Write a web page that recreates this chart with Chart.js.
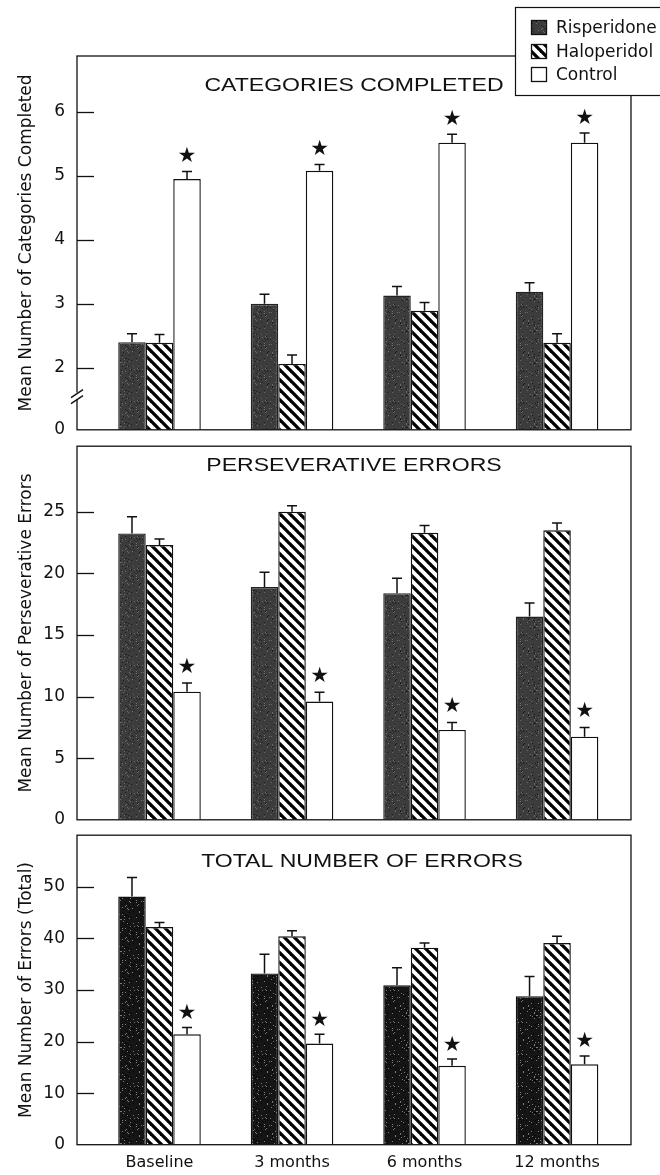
<!DOCTYPE html>
<html><head><meta charset="utf-8">
<script src="https://cdn.jsdelivr.net/npm/chart.js@4/dist/chart.umd.min.js"></script>
<style>
html,body{margin:0;padding:0;background:#fff;}
#wrap{position:relative;width:660px;height:1175px;overflow:hidden;background:#fff;}
canvas{position:absolute;left:0;}
</style></head><body>
<div id="wrap">
<canvas id="c1" width="660" height="452" style="top:0px"></canvas>
<canvas id="c2" width="660" height="418" style="top:424px"></canvas>
<canvas id="c3" width="660" height="362" style="top:813px"></canvas>
</div>
<script>
// ---------- DATA ----------
const categories = ['Baseline', '3 months', '6 months', '12 months'];
const groups = ['Risperidone', 'Haloperidol', 'Control'];

// Panel 1: categories completed (means and SEM)
const catRisperidone    = [2.40, 3.00, 3.13, 3.19];
const catRisperidoneSem = [0.13, 0.15, 0.14, 0.14];
const catHaloperidol    = [2.39, 2.06, 2.89, 2.39];
const catHaloperidolSem = [0.13, 0.14, 0.13, 0.14];
const catControl        = [4.95, 5.08, 5.52, 5.52];
const catControlSem     = [0.12, 0.10, 0.13, 0.15];
const catTickValues = [1.03, 2, 3, 4, 5, 6];      // axis is broken: lowest tick stands for 0
const catTickLabels = ['0', '2', '3', '4', '5', '6'];

// Panel 2: perseverative errors
const perRisperidone    = [23.25, 18.9, 18.4, 16.5];
const perRisperidoneSem = [1.35, 1.2, 1.2, 1.1];
const perHaloperidol    = [22.3, 25.0, 23.3, 23.5];
const perHaloperidolSem = [0.5, 0.5, 0.6, 0.6];
const perControl        = [10.4, 9.6, 7.3, 6.75];
const perControlSem     = [0.7, 0.75, 0.6, 0.75];
const perTickValues = [0, 5, 10, 15, 20, 25];
const perTickLabels = ['0', '5', '10', '15', '20', '25'];

// Panel 3: total number of errors
const totRisperidone    = [48.1, 33.2, 30.9, 28.8];
const totRisperidoneSem = [3.7, 3.7, 3.4, 3.8];
const totHaloperidol    = [42.2, 40.4, 38.2, 39.1];
const totHaloperidolSem = [0.9, 1.1, 0.9, 1.3];
const totControl        = [21.4, 19.6, 15.3, 15.6];
const totControlSem     = [1.3, 1.8, 1.3, 1.6];
const totTickValues = [0, 10, 20, 30, 40, 50];
const totTickLabels = ['0', '10', '20', '30', '40', '50'];

const controlSignificant = [true, true, true, true];

// ---------- STYLE ----------
const FONT = '"DejaVu Sans", sans-serif';
Chart.defaults.font.family = FONT;

function speckle(ctx, base, dots) {
  const s = 32, c = document.createElement('canvas');
  c.width = s; c.height = s;
  const g = c.getContext('2d');
  g.fillStyle = base; g.fillRect(0, 0, s, s);
  for (let i = 0; i < s; i++) for (let j = 0; j < s; j++) {
    const h = (i * 7919 + j * 104729 + i * j * 31 + (i ^ j) * 17) % 97;
    if (h < 5) { g.fillStyle = dots[0]; g.fillRect(i, j, 1, 1); }
    else if (h > 90) { g.fillStyle = dots[1]; g.fillRect(i, j, 1, 1); }
  }
  return ctx.createPattern(c, 'repeat');
}
function stripes(ctx) {
  const s = 10, c = document.createElement('canvas');
  c.width = s; c.height = s;
  const g = c.getContext('2d');
  g.fillStyle = '#fff'; g.fillRect(0, 0, s, s);
  g.strokeStyle = '#000'; g.lineWidth = 3.3;
  for (const o of [-s, 0, s]) {
    g.beginPath(); g.moveTo(o - 2, -2); g.lineTo(o + s + 2, s + 2); g.stroke();
  }
  return ctx.createPattern(c, 'repeat');
}

function makeDecor(cfg) {
  return {
    id: 'decor_' + cfg.id,
    afterDatasetsDraw(chart) {
      const ctx = chart.ctx, a = chart.chartArea, y = chart.scales.y;
      ctx.save();
      ctx.strokeStyle = '#111'; ctx.lineWidth = 1.3;
      ctx.strokeRect(a.left, a.top, a.right - a.left, a.bottom - a.top);
      // inward ticks
      y.ticks.forEach(t => {
        if (t.value <= y.min + 1e-9) return;
        const py = Math.round(y.getPixelForValue(t.value)) + 0.5;
        ctx.beginPath(); ctx.moveTo(a.left, py); ctx.lineTo(a.left + 17, py); ctx.stroke();
      });
      // axis break
      if (cfg.breakAt !== undefined) {
        const py = y.getPixelForValue(cfg.breakAt);
        ctx.fillStyle = '#fff';
        ctx.fillRect(a.left - 2, py - 4, 4, 7);
        ctx.lineWidth = 1.4;
        ctx.beginPath();
        ctx.moveTo(a.left - 6, py + 1); ctx.lineTo(a.left + 6, py - 7);
        ctx.moveTo(a.left - 6, py + 7); ctx.lineTo(a.left + 6, py - 1);
        ctx.stroke();
      }
      // error bars
      ctx.lineWidth = 1.5; ctx.strokeStyle = '#111';
      chart.data.datasets.forEach((ds, di) => {
        const meta = chart.getDatasetMeta(di);
        meta.data.forEach((bar, j) => {
          const v = ds.data[j].y, e = cfg.sem[di][j];
          const top = y.getPixelForValue(v + e);
          ctx.beginPath();
          ctx.moveTo(bar.x, bar.y); ctx.lineTo(bar.x, top);
          ctx.moveTo(bar.x - 5, top); ctx.lineTo(bar.x + 5, top);
          ctx.stroke();
        });
      });
      // significance stars on control bars
      const cMeta = chart.getDatasetMeta(2);
      ctx.fillStyle = '#111';
      ctx.font = '21px ' + FONT;
      ctx.textAlign = 'center'; ctx.textBaseline = 'middle';
      cMeta.data.forEach((bar, j) => {
        if (!controlSignificant[j]) return;
        const v = chart.data.datasets[2].data[j].y + cfg.sem[2][j];
        ctx.fillText('\u2605', bar.x, y.getPixelForValue(v) - cfg.starGap);
      });
      // panel title
      ctx.font = '18px "Liberation Sans", ' + FONT;
      ctx.translate((a.left + a.right) / 2 + cfg.titleDx, a.top + cfg.titleDy);
      ctx.scale(1.28, 1);
      ctx.fillText(cfg.title, 0, 0);
      ctx.restore();
    },
    afterDraw(chart) {
      if (!cfg.legend) return;
      const ctx = chart.ctx;
      ctx.save();
      ctx.fillStyle = '#fff';
      ctx.fillRect(515, 7, 160, 88);
      ctx.strokeStyle = '#111'; ctx.lineWidth = 1.2;
      ctx.strokeRect(515.5, 7.5, 160, 88);
      const rows = [28, 52, 75];
      chart.data.datasets.forEach((ds, i) => {
        ctx.fillStyle = ds.backgroundColor;
        ctx.fillRect(531, rows[i] - 8, 16, 15);
        ctx.strokeStyle = '#111'; ctx.lineWidth = 1.3;
        ctx.strokeRect(531.5, rows[i] - 7.5, 15, 14);
        ctx.fillStyle = '#111';
        ctx.font = '17px ' + FONT;
        ctx.textAlign = 'left'; ctx.textBaseline = 'middle';
        ctx.fillText(ds.label, 556, rows[i] + 1);
      });
      ctx.restore();
    }
  };
}

function makePanel(cfg) {
  const ctx = document.getElementById(cfg.id).getContext('2d');
  const fills = [speckle(ctx, cfg.rispBase, cfg.rispDots), stripes(ctx), '#fff'];
  const borders = [cfg.rispBorder, '#111', '#111'];
  const datasets = cfg.values.map((vals, k) => ({
    label: groups[k],
    data: vals.map((v, i) => ({ x: i, y: v })),
    backgroundColor: fills[k],
    borderColor: borders[k],
    borderWidth: 1.4,
    categoryPercentage: 0.623,
    barPercentage: 1
  }));
  return new Chart(ctx, {
    type: 'bar',
    data: { datasets },
    options: {
      responsive: false, animation: false, devicePixelRatio: 1,
      layout: { padding: { top: cfg.padTop, right: 29, left: 0, bottom: 0 } },
      plugins: { legend: { display: false }, tooltip: { enabled: false }, title: { display: false } },
      scales: {
        x: {
          type: 'linear', min: -0.6226, max: 3.558, offset: false,
          grid: { display: false, drawTicks: false }, border: { display: false },
          afterBuildTicks: s => { s.ticks = categories.map((c, i) => ({ value: i })); },
          ticks: { display: cfg.showX, autoSkip: false, maxRotation: 0, padding: 9,
                   font: { size: 16, family: FONT }, color: '#111',
                   callback: v => categories[v] },
          afterFit: s => { s.height = cfg.xHeight; }
        },
        y: {
          type: 'linear', min: cfg.yMin, max: cfg.yMax,
          grid: { display: false, drawTicks: false }, border: { display: false },
          afterBuildTicks: s => { s.ticks = cfg.tickValues.map(v => ({ value: v })); },
          ticks: { padding: 12, autoSkip: false, font: { size: 17, family: FONT }, color: '#111',
                   callback: (v, i) => cfg.tickLabels[i] },
          title: { display: true, text: cfg.yTitle, color: '#111',
                   font: { size: 17, family: FONT }, padding: { top: 16, bottom: 0 } },
          afterFit: s => { s.width = 77; }
        }
      }
    },
    plugins: [makeDecor(cfg)]
  });
}

makePanel({
  id: 'c1', padTop: 56, xHeight: 22, showX: false,
  yMin: 1.03, yMax: 6.875, tickValues: catTickValues, tickLabels: catTickLabels, breakAt: 1.55,
  yTitle: 'Mean Number of Categories Completed',
  values: [catRisperidone, catHaloperidol, catControl],
  sem: [catRisperidoneSem, catHaloperidolSem, catControlSem],
  rispBase: '#3c3c3c', rispDots: ['#6a6a6a', '#1c1c1c'], rispBorder: '#222',
  title: 'CATEGORIES COMPLETED', titleDx: 0, titleDy: 30, starGap: 15, legend: true
});
makePanel({
  id: 'c2', padTop: 22, xHeight: 22, showX: false,
  yMin: 0, yMax: 30.33, tickValues: perTickValues, tickLabels: perTickLabels,
  yTitle: 'Mean Number of Perseverative Errors',
  values: [perRisperidone, perHaloperidol, perControl],
  sem: [perRisperidoneSem, perHaloperidolSem, perControlSem],
  rispBase: '#3c3c3c', rispDots: ['#6a6a6a', '#1c1c1c'], rispBorder: '#222',
  title: 'PERSEVERATIVE ERRORS', titleDx: 0, titleDy: 20, starGap: 16, legend: false
});
makePanel({
  id: 'c3', padTop: 22, xHeight: 30.3, showX: true,
  yMin: 0, yMax: 60, tickValues: totTickValues, tickLabels: totTickLabels,
  yTitle: 'Mean Number of Errors (Total)',
  values: [totRisperidone, totHaloperidol, totControl],
  sem: [totRisperidoneSem, totHaloperidolSem, totControlSem],
  rispBase: '#151515', rispDots: ['#7a7a7a', '#000'], rispBorder: '#111',
  title: 'TOTAL NUMBER OF ERRORS', titleDx: 8, titleDy: 27, starGap: 14, legend: false
});
</script>
</body></html>
